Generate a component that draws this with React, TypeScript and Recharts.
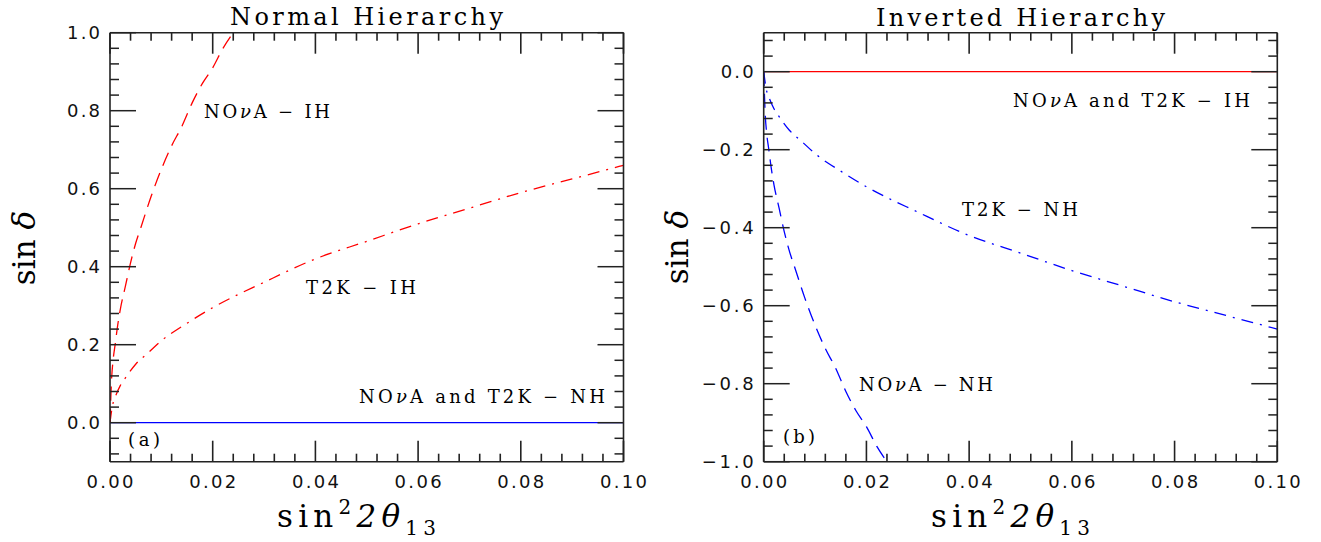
import React from 'react'
import { LineChart, Line, XAxis, YAxis } from 'recharts'

// readings
const X_TICKS = [
  0, 0.004, 0.008, 0.012, 0.016, 0.02, 0.024, 0.028, 0.032, 0.036, 0.04, 0.044, 0.048,
  0.052, 0.056, 0.06, 0.064, 0.068, 0.072, 0.076, 0.08, 0.084, 0.088, 0.092, 0.096, 0.1,
]
const X_MAJOR = [0, 0.02, 0.04, 0.06, 0.08, 0.1]

const Y_TICKS_NH = [
  -0.08, -0.04, 0, 0.04, 0.08, 0.12, 0.16, 0.2, 0.24, 0.28, 0.32, 0.36, 0.4, 0.44, 0.48,
  0.52, 0.56, 0.6, 0.64, 0.68, 0.72, 0.76, 0.8, 0.84, 0.88, 0.92, 0.96, 1.0,
]
const Y_MAJOR_NH = [0, 0.2, 0.4, 0.6, 0.8, 1.0]

const Y_TICKS_IH = [
  -1.0, -0.96, -0.92, -0.88, -0.84, -0.8, -0.76, -0.72, -0.68, -0.64, -0.6, -0.56, -0.52,
  -0.48, -0.44, -0.4, -0.36, -0.32, -0.28, -0.24, -0.2, -0.16, -0.12, -0.08, -0.04, 0, 0.04, 0.08,
]
const Y_MAJOR_IH = [-1.0, -0.8, -0.6, -0.4, -0.2, 0]

const NOVA_X = [0, 0.0003, 0.0006, 0.001, 0.0015, 0.002, 0.003, 0.004, 0.005, 0.006, 0.008, 0.01, 0.012, 0.014, 0.016, 0.018, 0.02, 0.022, 0.024]
const NOVA_IH_Y = [0, 0.11, 0.16, 0.2, 0.25, 0.29, 0.35, 0.41, 0.46, 0.5, 0.58, 0.65, 0.71, 0.76, 0.82, 0.87, 0.91, 0.96, 1.0]
const NOVA_NH_Y = [0, -0.11, -0.16, -0.2, -0.25, -0.29, -0.35, -0.41, -0.46, -0.5, -0.58, -0.65, -0.71, -0.76, -0.82, -0.87, -0.91, -0.96, -1.0]

const T2K_X = [0, 0.0005, 0.001, 0.002, 0.003, 0.005, 0.0075, 0.01, 0.015, 0.02, 0.03, 0.04, 0.05, 0.06, 0.07, 0.08, 0.09, 0.1]
const T2K_IH_Y = [0, 0.045, 0.065, 0.095, 0.115, 0.15, 0.18, 0.21, 0.255, 0.295, 0.36, 0.42, 0.465, 0.51, 0.55, 0.59, 0.625, 0.66]
const T2K_NH_Y = [0, -0.045, -0.065, -0.095, -0.115, -0.15, -0.18, -0.21, -0.255, -0.295, -0.36, -0.42, -0.465, -0.51, -0.55, -0.59, -0.625, -0.66]

const FLAT_X = [0, 0.1]
const FLAT_Y = [0, 0]

const pts = (xs: number[], ys: number[]) => xs.map((x, i) => ({ x, y: ys[i] }))

const AXIS = '#222'
const RED = '#ff0000'
const BLUE = '#0000ff'
const SERIF = '"DejaVu Serif", serif'
const SANS = '"DejaVu Sans", sans-serif'

// plot-area geometry shared by the chart margins and the frame tick overlay
const PLOT_TOP = 32.7
const PLOT_BOTTOM = 461.7
const PANELS = [
  { left: 0, width: 660, plotLeft: 110, plotRight: 623.5 },
  { left: 660, width: 661, plotLeft: 763.7, plotRight: 1277.3 },
]

const near = (list: number[], v: number) => list.some((m) => Math.abs(m - v) < 1e-6)

const fmtY = (v: number) => {
  if (Math.abs(v) < 1e-9) return '0.0'
  return v < 0 ? '\u2212' + Math.abs(v).toFixed(1) : v.toFixed(1)
}

const bottomLabel = (props: any) => {
  const { x, y, payload } = props
  const v = payload.value as number
  if (!near(X_MAJOR, v)) return <g />
  return (
    <text x={x} y={Number(y) + 26} textAnchor="middle" fontSize={18} fontFamily={SANS} fill="#111" textLength={47} lengthAdjust="spacing">
      {v.toFixed(2)}
    </text>
  )
}

const makeYTick = (side: 'left' | 'right', majors: number[]) => (props: any) => {
  const { x, y, payload } = props
  const v = payload.value as number
  const major = near(majors, v)
  const len = major ? 26 : 9
  if (side === 'left') {
    return (
      <g>
        <path d={`M${x},${y}H${x + len}`} stroke={AXIS} strokeWidth={1.5} fill="none" />
        {major && (
          <text x={x - 10} y={y + 6.5} textAnchor="end" fontSize={18} fontFamily={SANS} fill="#111" textLength={v < 0 ? 52 : 33} lengthAdjust="spacing">
            {fmtY(v)}
          </text>
        )}
      </g>
    )
  }
  return <path d={`M${x},${y}H${x - len}`} stroke={AXIS} strokeWidth={1.5} fill="none" />
}

const Panel = ({ idx, yDomain, yTicks, yMajor, children }: any) => {
  const p = PANELS[idx]
  const margin = {
    top: PLOT_TOP - 1,
    bottom: 542 - PLOT_BOTTOM - 1,
    left: p.plotLeft - p.left - 60,
    right: p.left + p.width - p.plotRight - 1,
  }
  return (
    <div style={{ position: 'absolute', left: p.left, top: 0 }}>
      <LineChart width={p.width} height={542} margin={margin}>
        <XAxis type="number" dataKey="x" domain={[0, 0.1]} ticks={X_TICKS} interval={0} allowDataOverflow
          height={1} tickSize={0} tickMargin={0} tickLine={false} axisLine={{ stroke: AXIS, strokeWidth: 1.6 }}
          tick={bottomLabel} />
        <XAxis xAxisId="t" orientation="top" type="number" dataKey="x" domain={[0, 0.1]} allowDataOverflow
          height={1} tickLine={false} axisLine={{ stroke: AXIS, strokeWidth: 1.6 }} tick={false} />
        <YAxis type="number" domain={yDomain} ticks={yTicks} interval={0} allowDataOverflow
          width={60} tickSize={0} tickMargin={0} tickLine={false} axisLine={{ stroke: AXIS, strokeWidth: 1.6 }}
          tick={makeYTick('left', yMajor)} />
        <YAxis yAxisId="r" orientation="right" type="number" domain={yDomain} ticks={yTicks} interval={0} allowDataOverflow
          width={1} tickSize={0} tickMargin={0} tickLine={false} axisLine={{ stroke: AXIS, strokeWidth: 1.6 }}
          tick={makeYTick('right', yMajor)} />
        {/* invisible series so the mirrored frame axes have data of their own */}
        <Line xAxisId="t" yAxisId="r" data={pts(FLAT_X, FLAT_Y)} dataKey="y" stroke="none" dot={false} isAnimationActive={false} />
        {children}
      </LineChart>
    </div>
  )
}

// inward tick marks on the top and bottom frame edges
const FrameTicks = () => (
  <g stroke={AXIS} strokeWidth={1.6}>
    {PANELS.map((p, i) =>
      X_TICKS.map((v) => {
        const x = p.plotLeft + (v / 0.1) * (p.plotRight - p.plotLeft)
        const len = near(X_MAJOR, v) ? 21 : 8
        return (
          <g key={`${i}-${v}`}>
            <line x1={x} y1={PLOT_TOP} x2={x} y2={PLOT_TOP + len} />
            <line x1={x} y1={PLOT_BOTTOM} x2={x} y2={PLOT_BOTTOM - len} />
          </g>
        )
      })
    )}
  </g>
)

const Nu = () => <tspan fontStyle="italic">ν</tspan>

export default function App() {
  return (
    <div style={{ position: 'absolute', left: 0, top: 0, width: 1321, height: 542, background: '#fff' }}>
      <Panel idx={0} yDomain={[-0.1, 1.0]} yTicks={Y_TICKS_NH} yMajor={Y_MAJOR_NH}>
        <Line data={pts(FLAT_X, FLAT_Y)} dataKey="y" type="linear" stroke={BLUE} strokeWidth={1.2} dot={false} isAnimationActive={false} />
        <Line data={pts(NOVA_X, NOVA_IH_Y)} dataKey="y" type="monotone" stroke={RED} strokeWidth={1.3} strokeDasharray="14 8" dot={false} isAnimationActive={false} />
        <Line data={pts(T2K_X, T2K_IH_Y)} dataKey="y" type="monotone" stroke={RED} strokeWidth={1.3} strokeDasharray="12 7 2 7" dot={false} isAnimationActive={false} />
      </Panel>
      <Panel idx={1} yDomain={[-1.0, 0.1]} yTicks={Y_TICKS_IH} yMajor={Y_MAJOR_IH}>
        <Line data={pts(FLAT_X, FLAT_Y)} dataKey="y" type="linear" stroke={RED} strokeWidth={1.2} dot={false} isAnimationActive={false} />
        <Line data={pts(NOVA_X, NOVA_NH_Y)} dataKey="y" type="monotone" stroke={BLUE} strokeWidth={1.3} strokeDasharray="14 8" dot={false} isAnimationActive={false} />
        <Line data={pts(T2K_X, T2K_NH_Y)} dataKey="y" type="monotone" stroke={BLUE} strokeWidth={1.3} strokeDasharray="12 7 2 7" dot={false} isAnimationActive={false} />
      </Panel>
      <svg width={1321} height={542} style={{ position: 'absolute', left: 0, top: 0, pointerEvents: 'none' }}>
        <FrameTicks />
        <g fontFamily={SERIF} fill="#000">
          <text x={230} y={25} fontSize={24} textLength={273} lengthAdjust="spacing">Normal Hierarchy</text>
          <text x={876} y={26} fontSize={24} textLength={289} lengthAdjust="spacing">Inverted Hierarchy</text>

          <text x={204} y={118} fontSize={18} textLength={126} lengthAdjust="spacing">NO<Nu />A − IH</text>
          <text x={306} y={294} fontSize={18} textLength={110} lengthAdjust="spacing">T2K − IH</text>
          <text x={359} y={403} fontSize={18} textLength={246} lengthAdjust="spacing">NO<Nu />A and T2K − NH</text>
          <text x={128} y={446} fontSize={18} textLength={32} lengthAdjust="spacing">(a)</text>

          <text x={1013} y={107} fontSize={18} textLength={237} lengthAdjust="spacing">NO<Nu />A and T2K − IH</text>
          <text x={962} y={216} fontSize={18} textLength={116} lengthAdjust="spacing">T2K − NH</text>
          <text x={859} y={391} fontSize={18} textLength={134} lengthAdjust="spacing">NO<Nu />A − NH</text>
          <text x={783} y={443} fontSize={18} textLength={32} lengthAdjust="spacing">(b)</text>

          <text x={35} y={248} fontSize={31} textAnchor="middle" transform="rotate(-90 35 248)">sin <tspan fontStyle="italic">δ</tspan></text>
          <text x={688} y={247} fontSize={31} textAnchor="middle" transform="rotate(-90 688 247)">sin <tspan fontStyle="italic">δ</tspan></text>

          <text x={277} y={527} fontSize={31} textLength={159} lengthAdjust="spacing">
            sin<tspan dy={-13} fontSize={20}>2</tspan><tspan dy={13} fontStyle="italic">2θ</tspan><tspan dy={8} fontSize={20}>13</tspan>
          </text>
          <text x={931} y={527} fontSize={31} textLength={159} lengthAdjust="spacing">
            sin<tspan dy={-13} fontSize={20}>2</tspan><tspan dy={13} fontStyle="italic">2θ</tspan><tspan dy={8} fontSize={20}>13</tspan>
          </text>
        </g>
      </svg>
    </div>
  )
}
